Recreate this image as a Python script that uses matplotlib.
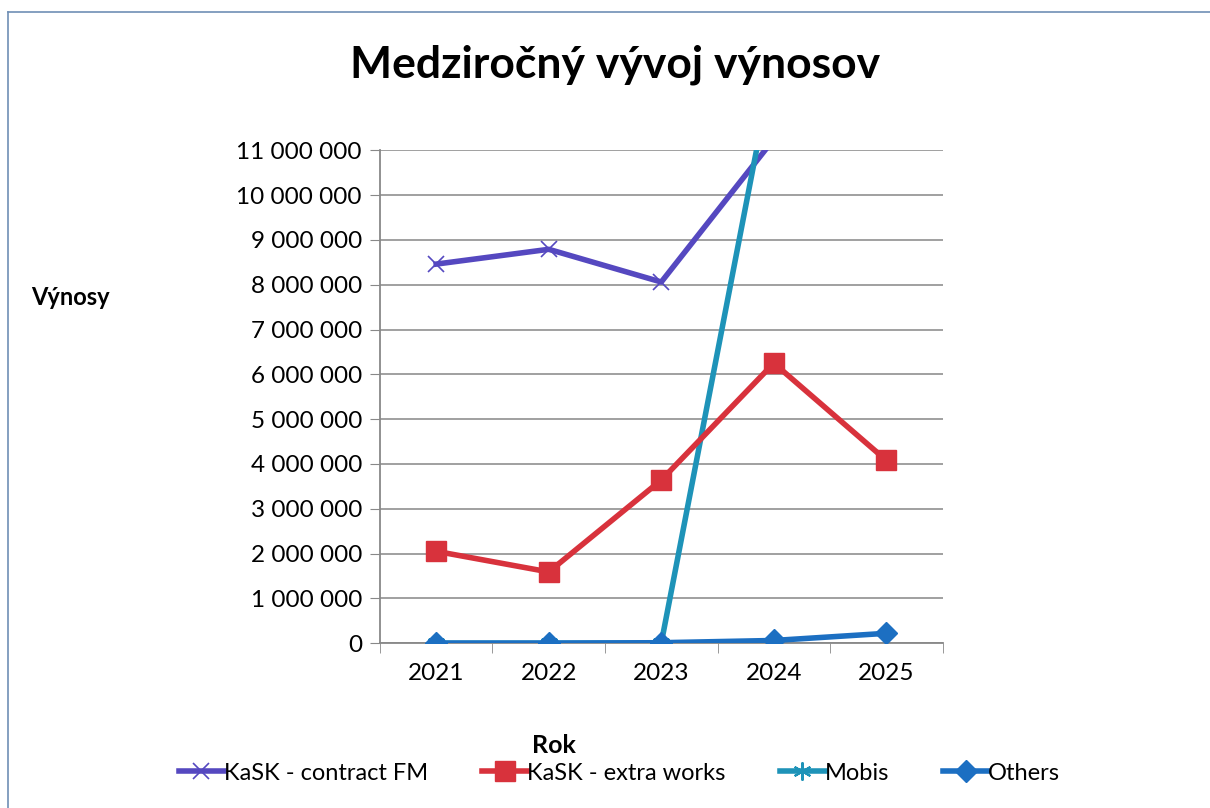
import matplotlib.pyplot as plt
from matplotlib.ticker import FuncFormatter, FixedLocator
import numpy as np

plt.rcParams['font.family'] = ['Lato', 'DejaVu Sans']

years = ['2021', '2022', '2023', '2024', '2025']
contract_fm = [8460000, 8790000, 8060000, 11250000, np.nan]
extra_works = [2050000, 1590000, 3640000, 6250000, 4080000]
mobis = [0, 0, 0, 13000000, np.nan]
others = [0, 0, 10000, 60000, 220000]

fig = plt.figure(figsize=(12.1, 8.08), dpi=100)
ax = fig.add_axes([0.314, 0.204, 0.465, 0.61])

x = np.arange(len(years))
ax.plot(x, contract_fm, color='#5548c0', lw=4, marker='x', ms=12, mew=1.2,
        label='KaSK - contract FM', zorder=3)
ax.plot(x, extra_works, color='#d8323c', lw=4, marker='s', ms=14,
        label='KaSK - extra works', zorder=4)
ax.plot(x, mobis, color='#1e93b8', lw=4, marker=(6, 2, 0), ms=13, mew=1.5,
        label='Mobis', zorder=3)
ax.plot(x, others, color='#1c6fc2', lw=4, marker='D', ms=11,
        label='Others', zorder=5)

ax.set_xlim(-0.5, 4.5)
ax.set_ylim(0, 11000000)
ax.set_yticks(np.arange(0, 11000001, 1000000))
ax.yaxis.set_major_formatter(FuncFormatter(lambda v, p: f'{int(v):,}'.replace(',', ' ')))
ax.set_xticks(x)
ax.set_xticklabels(years)
ax.xaxis.set_minor_locator(FixedLocator(np.arange(-0.5, 5, 1)))
ax.tick_params(axis='x', which='major', length=0, labelsize=17.5, pad=14)
ax.tick_params(axis='x', which='minor', length=7, color='#888888', direction='out')
ax.tick_params(axis='y', length=7, color='#888888', labelsize=17.5, pad=6)

ax.grid(axis='y', color='#999999', lw=1.3)
ax.set_axisbelow(True)
for s in ['top', 'right']:
    ax.spines[s].set_visible(False)
for s in ['left', 'bottom']:
    ax.spines[s].set_color('#888888')
    ax.spines[s].set_linewidth(1.3)

fig.text(0.508, 0.92, 'Medziročný vývoj výnosov', ha='center', va='center',
         fontsize=32, fontweight='bold')
fig.text(0.058, 0.632, 'Výnosy', ha='center', va='center', fontsize=17, fontweight='bold')
fig.text(0.458, 0.077, 'Rok', ha='center', va='center', fontsize=18, fontweight='bold')

fig.legend(loc='center', bbox_to_anchor=(0.512, 0.043), ncol=4, frameon=False,
           fontsize=17, handlelength=1.9, handletextpad=0.0, columnspacing=2.3)

# thin frame round the chart
fig.add_artist(plt.Line2D([0.007, 0.007], [0.0, 0.985], color='#6f8fb5', lw=1.2))
fig.add_artist(plt.Line2D([0.007, 1.0], [0.985, 0.985], color='#6f8fb5', lw=1.2))

fig.savefig('out.png', dpi=100)
